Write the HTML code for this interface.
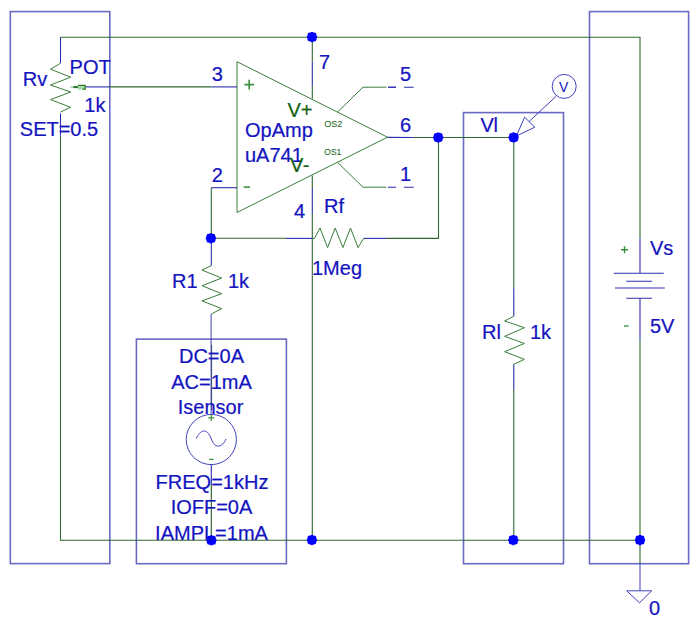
<!DOCTYPE html>
<html><head><meta charset="utf-8"><style>
html,body{margin:0;padding:0;background:#fff;width:700px;height:624px;overflow:hidden}
svg{display:block}
text{font-family:"Liberation Sans",sans-serif}
</style></head><body>
<svg width="700" height="624" viewBox="0 0 700 624">
<rect width="700" height="624" fill="#fff"/>
<!-- boxes -->
<g fill="none" stroke="#6a6ac4" stroke-width="1.6">
<rect x="10.3" y="11.6" width="99.5" height="552"/>
<rect x="136.4" y="339.1" width="150" height="224.6"/>
<rect x="463.5" y="112.6" width="100" height="451.1"/>
<rect x="589.5" y="11.6" width="99.1" height="552.1"/>
</g>
<!-- green wires -->
<g fill="none" stroke="#2f6a2f" stroke-width="1.1">
<polyline points="60.5,37.2 640,37.2 640,237.7"/>
<polyline points="60.5,135.7 60.5,540.3 640,540.3"/>
<polyline points="640,339.6 640,563.8"/>
<polyline points="109.7,86.9 211.3,86.9"/>
<polyline points="312.3,37.2 312.3,61.4"/>
<polyline points="312.3,85.8 312.3,98.8"/>
<polyline points="312.3,175.5 312.3,188"/>
<polyline points="312.3,214 312.3,540.3"/>
<polyline points="211.3,187.7 211.3,238.3 286,238.3"/>
<polyline points="387.2,238.4 438.5,238.4 438.5,137.5 413.6,137.5"/>
<polyline points="438.5,137.5 513.8,137.5 513.8,288.3"/>
<polyline points="513.8,390 513.8,540.3"/>
<polyline points="211.6,345 211.6,410" stroke="#2a5a2a" stroke-width="0.9"/>
<polyline points="211.3,484 211.3,540.3" stroke="#2a5a2a"/>
</g><g fill="none" stroke="#3a7d3a" stroke-width="1">
<!-- op amp -->
<polygon points="237,61.7 237,212.5 387.5,137.2"/>
<polyline points="337.6,112 363,87.2 386.5,87.2"/>
<polyline points="337.6,162.4 363,187.2 386.5,187.2"/>
<!-- resistors -->
<polyline points="60.5,63.2 50.5,69.2 70.7,77.2 50.5,85 70.7,92 50.5,99.6 70.7,107.3 60.5,112"/>
<polyline points="312.4,238.4 314.5,238.4 320,228 327.6,247.6 335.2,228 342.9,247.6 350.5,228 358,247.6 363.6,238.4"/>
<polyline points="211.3,265.6 202,270.1 221.7,278.1 202,285.7 221.7,293.7 202,300.9 221.7,308.6 211.3,314"/>
<polyline points="513.8,316.2 504.6,321 524.4,327.7 504.6,336.3 524.4,343.5 504.6,351.7 524.4,359.4 513.8,364.2"/>
</g>
<!-- blue pins -->
<g fill="none" stroke="#2c2cb0" stroke-width="1.1">
<polyline points="85.7,86.9 109.7,86.9"/>
<polyline points="211.3,86.9 237,86.9"/>
<polyline points="60.5,37.2 60.5,63.2"/>
<polyline points="60.5,113.4 60.5,135.7"/>
<polyline points="312.3,61.4 312.3,85.8"/>
<polyline points="312.3,188 312.3,214"/>
<polyline points="211.3,187.7 237,187.7"/>
<polyline points="286,238.4 312.4,238.4"/>
<polyline points="363.6,238.4 387.2,238.4"/>
<polyline points="387.5,137.4 413.6,137.5"/>
<polyline points="211.3,238.3 211.3,265.6"/>
<polyline points="211.1,314 211.1,414.4" stroke-width="0.9"/>
<polyline points="211.3,464.6 211.3,484"/>
<polyline points="513.8,288.3 513.8,316.2"/>
<polyline points="513.8,364.2 513.8,390"/>
<polyline points="640,237.7 640,273.3"/>
<polyline points="640,298.3 640,339.6"/>
<polyline points="388,87.2 396,87.2 M404,87.2 413.7,87.2"/>
<path d="M388,87.2H396M404,87.2H413.7M388,187.2H396M404,187.2H413.7"/>
<!-- battery -->
<path d="M613.8,273.3H663.8M626.3,281.3H651.9M615,288H664.8M626.3,298.3H651.9"/>
</g><g fill="none" stroke="#4040bc" stroke-width="1">
<!-- ground -->
<path d="M640,563.8V590.8M626.7,590.8H651.7L639.5,602.8Z"/>
<!-- V marker -->
<circle cx="564.2" cy="86.4" r="12"/>
<path d="M556.2,96.2L529.3,121.3M516.3,136.1L524.6,117.2L534.8,127.2Z"/>
<!-- Isensor circle -->
<circle cx="211.3" cy="439.5" r="25.1"/>
<path d="M196.3,438.5C200,430 207,427 211.3,439 C215.5,450 222.5,447 226,439"/>
</g>
<!-- pot arrow -->
<g fill="#2a7a2a" stroke="none">
<path fill="#8fc88f" d="M70.2,86.4H73.2V87.6H70.2Z"/>
<path d="M73.2,86.1H78.2V88.1H73.2Z"/>
<path fill="#a8d8a8" d="M78,85H85.8V89.6H78Z"/>
<path d="M78,84.8H85.8V86H78ZM84.6,84.8H85.8V89.7H84.6ZM82.5,88.6H85.8V89.7H82.5Z"/>
</g>
<!-- dots -->
<g fill="#0000ff">
<rect x="307.50" y="32.60" width="9" height="9" rx="2.4"/><rect x="306.90" y="36.00" width="10.2" height="2.2"/><rect x="310.90" y="32.00" width="2.2" height="10.2"/>
<rect x="433.70" y="133.00" width="9" height="9" rx="2.4"/><rect x="433.10" y="136.40" width="10.2" height="2.2"/><rect x="437.10" y="132.40" width="2.2" height="10.2"/>
<rect x="509.10" y="132.90" width="9" height="9" rx="2.4"/><rect x="508.50" y="136.30" width="10.2" height="2.2"/><rect x="512.50" y="132.30" width="2.2" height="10.2"/>
<rect x="206.40" y="233.80" width="9" height="9" rx="2.4"/><rect x="205.80" y="237.20" width="10.2" height="2.2"/><rect x="209.80" y="233.20" width="2.2" height="10.2"/>
<rect x="206.90" y="535.80" width="9" height="9" rx="2.4"/><rect x="206.30" y="539.20" width="10.2" height="2.2"/><rect x="210.30" y="535.20" width="2.2" height="10.2"/>
<rect x="307.40" y="535.50" width="9" height="9" rx="2.4"/><rect x="306.80" y="538.90" width="10.2" height="2.2"/><rect x="310.80" y="534.90" width="2.2" height="10.2"/>
<rect x="508.80" y="535.60" width="9" height="9" rx="2.4"/><rect x="508.20" y="539.00" width="10.2" height="2.2"/><rect x="512.20" y="535.00" width="2.2" height="10.2"/>
<rect x="635.50" y="535.60" width="9" height="9" rx="2.4"/><rect x="634.90" y="539.00" width="10.2" height="2.2"/><rect x="638.90" y="535.00" width="2.2" height="10.2"/>
</g>
<!-- blue text -->
<g fill="#1414c0" stroke="#1414c0" stroke-width="0.22" font-size="20">
<text x="22.8" y="86.3">Rv</text>
<text x="69.6" y="73.6">POT</text>
<text x="84.3" y="111.5">1k</text>
<text x="19.8" y="135.9">SET=0.5</text>
<text x="211.7" y="81.1">3</text>
<text x="319" y="68.6">7</text>
<text x="245" y="136.6">OpAmp</text>
<text x="245" y="161.5">uA741</text>
<text x="211.8" y="182.0">2</text>
<text x="294" y="217.5">4</text>
<text x="324" y="212.7">Rf</text>
<text x="312" y="275.1">1Meg</text>
<text x="400" y="80.6">5</text>
<text x="400" y="131.7">6</text>
<text x="400" y="181.4">1</text>
<text x="480.5" y="131.9">V<tspan dx="-0.4">l</tspan></text>
<text x="482" y="338.8">Rl</text>
<text x="530" y="338.6">1k</text>
<text x="172" y="287.7">R1</text>
<text x="228" y="287.6">1k</text>
<text x="650" y="254.8">Vs</text>
<text x="650" y="332.7">5V</text>
<text x="649" y="614.6">0</text>
<g text-anchor="middle">
<text x="211.5" y="362.6">DC=0A</text>
<text x="211.5" y="388.7">AC=1mA</text>
<text x="210.5" y="413.6">Isensor</text>
<text x="212" y="489.3">FREQ=1kHz</text>
<text x="211.5" y="514.2">IOFF=0A</text>
<text x="211.5" y="540.2">IAMPL=1mA</text>
</g>
<text x="559" y="92.1" font-size="14" stroke-width="0">V</text>
</g>
<!-- green text -->
<g fill="#146414" stroke="#146414" stroke-width="0.22" font-size="20">
<text x="287.5" y="117.0">V+</text>
<text x="290" y="172.1">V<tspan dx="0.5">-</tspan></text>
</g>
<g fill="#1f6a1f" stroke="#1f6a1f" stroke-width="0.1" font-size="9.7">
<text x="324.3" y="127" textLength="18" lengthAdjust="spacingAndGlyphs">OS2</text>
<text x="324.3" y="155" textLength="17" lengthAdjust="spacingAndGlyphs">OS1</text>
</g>
<g fill="#3a8f3a" stroke="none">
<path d="M244.4,83.8H254V85.4H244.4ZM248.4,79.8H250V89.4H248.4Z"/>
<path d="M243.7,186.3H250V187.9H243.7Z"/>
<path d="M621,249H628V250.4H621ZM623.8,246.2H625.2V253.2H623.8Z"/>
<path d="M624,325.3H628.5V326.7H624Z"/>
<path d="M208.3,417.3H214.3V418.5H208.3ZM210.7,415H211.9V421H210.7Z"/>
<path d="M209,458.8H213.6V460H209Z"/>
</g>
</svg>
</body></html>
